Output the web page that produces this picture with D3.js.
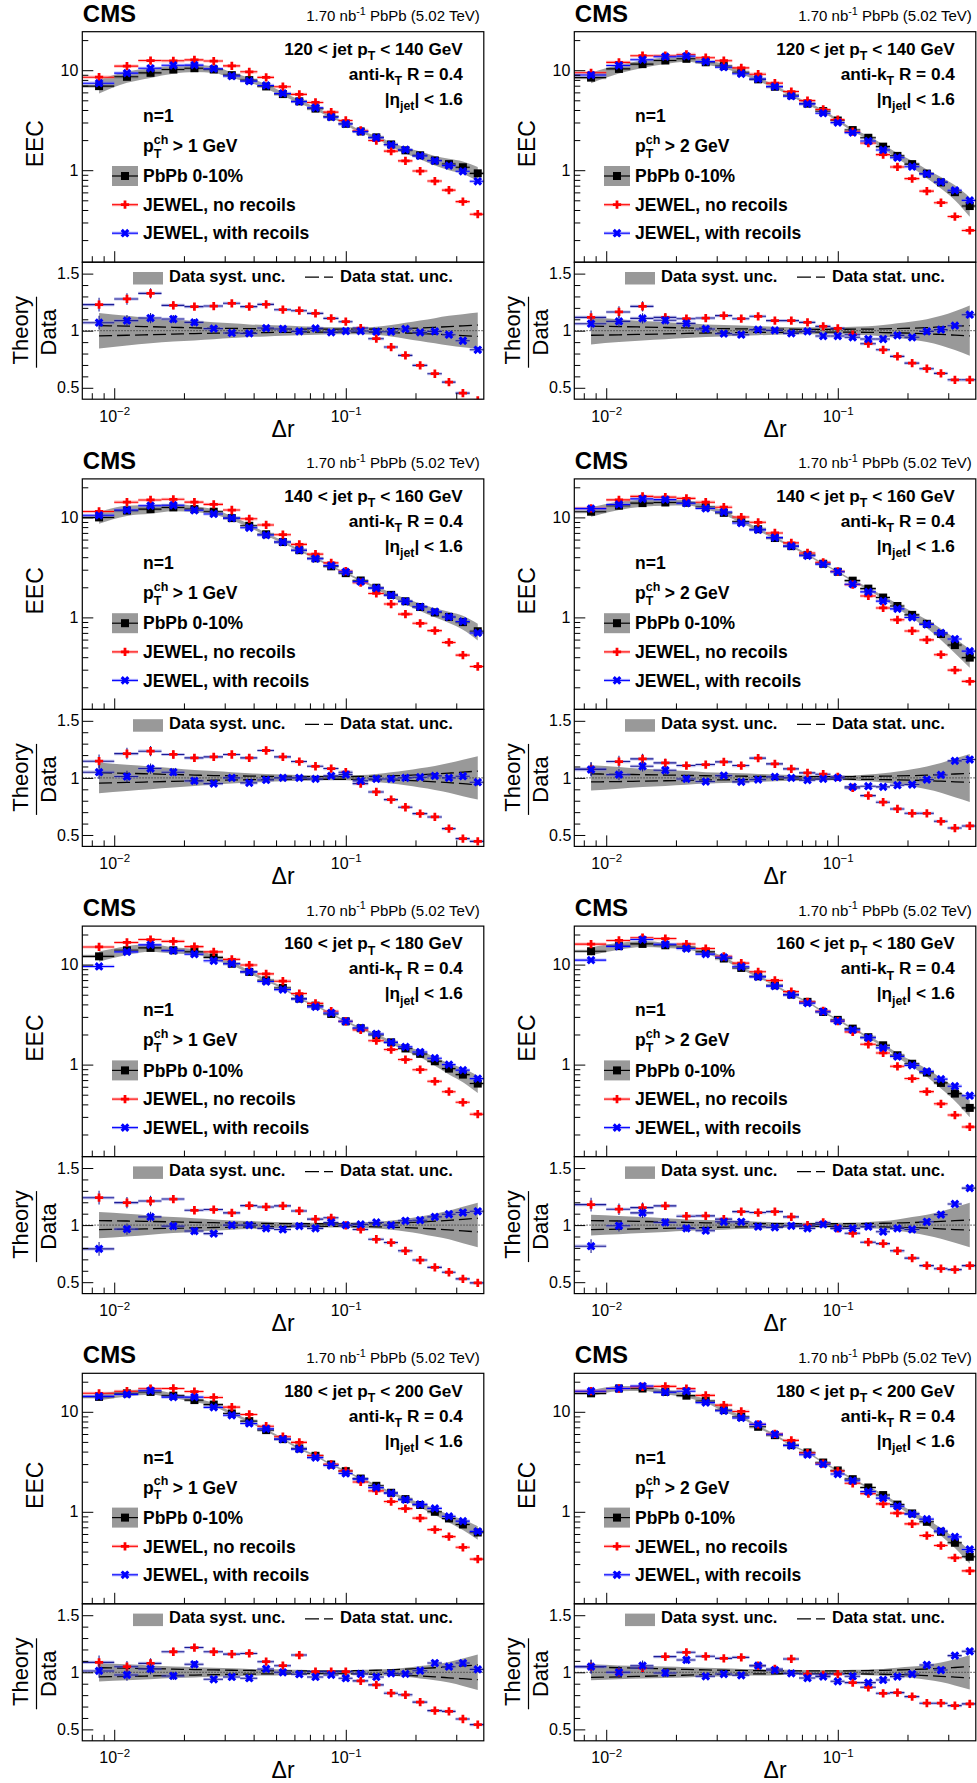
<!DOCTYPE html>
<html><head><meta charset="utf-8">
<script src="https://cdn.jsdelivr.net/npm/d3@7"></script>
<style>body{margin:0;background:#fff}</style>
</head><body><svg id="c"></svg>
<script>
// ---------------- DATA ----------------
const binEdges = [0.0072, 0.01, 0.0127, 0.016, 0.0201, 0.0243, 0.0295, 0.035, 0.0415, 0.049, 0.058, 0.068, 0.08, 0.093, 0.107, 0.125, 0.146, 0.168, 0.194, 0.225, 0.26, 0.298, 0.343, 0.4];
const deltaR = [0.0086, 0.01135, 0.01435, 0.018, 0.0222, 0.0269, 0.0322, 0.0383, 0.0453, 0.0535, 0.063, 0.074, 0.0865, 0.1, 0.116, 0.1355, 0.157, 0.181, 0.2095, 0.2425, 0.279, 0.3205, 0.3715];

const jetPtBins = ["120 < jet p", "140 < jet p", "160 < jet p", "180 < jet p"];
const jetPtBinsHigh = [" < 140 GeV", " < 160 GeV", " < 180 GeV", " < 200 GeV"];
const trackPtCuts = ["1", "2"];

const xAxisRange = [0.00728, 0.3945];
const yUpperRange = [0.1202, 24.27];
const ratioRange = [0.4, 1.6];
const xMajorTicks = [0.01, 0.1];
const xMajorLabels = ["-2", "-1"];
const xMinorTicks = [0.008, 0.009, 0.02, 0.03, 0.04, 0.05, 0.06, 0.07, 0.08, 0.09, 0.2, 0.3];
const yUpperMajor = [1, 10];
const yUpperMinor = [0.2, 0.3, 0.4, 0.5, 0.6, 0.7, 0.8, 0.9, 2, 3, 4, 5, 6, 7, 8, 9, 20];
const ratioMajor = [0.5, 1, 1.5];
const ratioMinor = [0.6, 0.7, 0.8, 0.9, 1.1, 1.2, 1.3, 1.4];

const ratioErr = [0.06, 0.05, 0.045, 0.035, 0.03, 0.02, 0.015, 0.012, 0.01, 0.01, 0.01, 0.01, 0.01, 0.01, 0.01, 0.01, 0.01, 0.01, 0.01, 0.012, 0.014, 0.016, 0.02];

// 120-140 GeV, pT^ch > 1
const eec_120_1 = [6.93, 8.59, 9.41, 10.16, 10.47, 10.16, 8.92, 7.96, 6.88, 5.77, 4.88, 4.13, 3.44, 2.91, 2.44, 2.13, 1.81, 1.58, 1.41, 1.25, 1.15, 1.07, 0.93];
const rNo_120_1 = [1.228, 1.278, 1.327, 1.222, 1.211, 1.216, 1.240, 1.211, 1.231, 1.184, 1.175, 1.152, 1.108, 1.079, 1.023, 0.930, 0.857, 0.784, 0.696, 0.623, 0.550, 0.453, 0.39];
const rWith_120_1 = [1.070, 1.088, 1.111, 1.102, 1.073, 1.018, 0.980, 0.977, 1.023, 1.015, 0.994, 1.020, 0.985, 0.997, 0.997, 0.991, 0.991, 1.015, 0.985, 0.994, 0.965, 0.912, 0.833];
const syst_120_1 = [0.155, 0.13, 0.11, 0.095, 0.085, 0.075, 0.065, 0.055, 0.05, 0.045, 0.04, 0.035, 0.03, 0.03, 0.03, 0.035, 0.05, 0.07, 0.09, 0.11, 0.13, 0.145, 0.16];
const stat_120_1 = [0.045, 0.04, 0.035, 0.03, 0.025, 0.022, 0.02, 0.018, 0.016, 0.015, 0.014, 0.013, 0.013, 0.013, 0.014, 0.015, 0.017, 0.02, 0.024, 0.03, 0.036, 0.043, 0.05];

// 120-140 GeV, pT^ch > 2
const eec_120_2 = [8.43, 10.3, 11.5, 12.5, 13.0, 12.0, 11.0, 9.55, 8.1, 6.83, 5.62, 4.63, 3.90, 3.14, 2.52, 2.11, 1.72, 1.39, 1.15, 0.925, 0.755, 0.603, 0.438];
const rNo_120_2 = [1.117, 1.164, 1.213, 1.117, 1.105, 1.111, 1.132, 1.105, 1.126, 1.088, 1.088, 1.073, 1.038, 1.020, 0.965, 0.886, 0.833, 0.775, 0.716, 0.667, 0.626, 0.570, 0.570];
const rWith_120_2 = [1.061, 1.082, 1.108, 1.091, 1.064, 1.015, 0.974, 0.965, 1.009, 1.003, 0.977, 0.994, 0.953, 0.953, 0.942, 0.927, 0.927, 0.959, 0.942, 0.994, 1.009, 1.044, 1.140];
const syst_120_2 = [0.12, 0.1, 0.085, 0.075, 0.065, 0.055, 0.05, 0.045, 0.04, 0.035, 0.03, 0.03, 0.03, 0.03, 0.035, 0.04, 0.05, 0.065, 0.08, 0.1, 0.13, 0.17, 0.22];
const stat_120_2 = [0.04, 0.036, 0.032, 0.028, 0.024, 0.02, 0.018, 0.016, 0.015, 0.014, 0.013, 0.012, 0.012, 0.012, 0.013, 0.014, 0.016, 0.019, 0.022, 0.027, 0.033, 0.039, 0.045];

// 140-160 GeV, pT^ch > 1
const eec_140_1 = [10.0, 11.7, 12.1, 12.6, 12.1, 11.4, 9.84, 8.24, 6.78, 5.67, 4.70, 3.90, 3.24, 2.77, 2.34, 1.98, 1.68, 1.45, 1.27, 1.12, 1.01, 0.897, 0.727];
const rNo_140_1 = [1.146, 1.213, 1.234, 1.205, 1.175, 1.184, 1.205, 1.175, 1.240, 1.184, 1.143, 1.102, 1.082, 1.050, 0.950, 0.877, 0.810, 0.743, 0.687, 0.658, 0.556, 0.468, 0.444];
const rWith_140_1 = [1.050, 1.012, 1.082, 1.050, 0.974, 0.950, 1.0, 0.956, 0.982, 1.0, 1.0, 0.991, 1.018, 1.029, 0.974, 0.991, 0.991, 1.0, 1.006, 1.018, 1.0, 1.015, 0.962];
const syst_140_1 = [0.135, 0.115, 0.1, 0.085, 0.07, 0.06, 0.05, 0.04, 0.035, 0.03, 0.025, 0.022, 0.02, 0.02, 0.025, 0.035, 0.05, 0.065, 0.085, 0.105, 0.13, 0.16, 0.19];
const stat_140_1 = [0.045, 0.04, 0.035, 0.03, 0.025, 0.02, 0.018, 0.016, 0.014, 0.013, 0.012, 0.012, 0.012, 0.012, 0.013, 0.015, 0.018, 0.022, 0.027, 0.034, 0.042, 0.05, 0.06];

// 140-160 GeV, pT^ch > 2
const eec_140_2 = [11.4, 13.1, 13.9, 14.1, 14.0, 12.7, 11.1, 9.1, 7.62, 6.22, 5.16, 4.22, 3.44, 2.86, 2.33, 1.94, 1.58, 1.30, 1.06, 0.863, 0.683, 0.529, 0.396];
const rNo_140_2 = [1.079, 1.143, 1.167, 1.132, 1.108, 1.117, 1.140, 1.108, 1.173, 1.123, 1.079, 1.044, 1.032, 1.009, 0.912, 0.845, 0.787, 0.728, 0.690, 0.690, 0.620, 0.561, 0.579];
const rWith_140_2 = [1.073, 1.029, 1.102, 1.067, 0.991, 0.968, 1.020, 0.965, 0.985, 1.009, 1.0, 0.980, 0.991, 1.0, 0.921, 0.927, 0.921, 0.936, 0.942, 0.985, 1.026, 1.149, 1.161];
const syst_140_2 = [0.11, 0.095, 0.08, 0.07, 0.06, 0.05, 0.045, 0.04, 0.035, 0.03, 0.025, 0.022, 0.02, 0.02, 0.022, 0.03, 0.04, 0.055, 0.075, 0.1, 0.13, 0.17, 0.21];
const stat_140_2 = [0.035, 0.032, 0.028, 0.025, 0.022, 0.019, 0.017, 0.015, 0.013, 0.012, 0.011, 0.011, 0.011, 0.011, 0.012, 0.013, 0.015, 0.017, 0.02, 0.024, 0.029, 0.034, 0.04];

// 160-180 GeV, pT^ch > 1
const eec_160_1 = [12.1, 13.9, 14.7, 13.9, 13.4, 11.8, 10.2, 8.45, 6.97, 5.84, 4.57, 3.89, 3.21, 2.71, 2.31, 1.98, 1.67, 1.45, 1.28, 1.08, 0.912, 0.794, 0.646];
const rNo_160_1 = [1.240, 1.197, 1.211, 1.228, 1.130, 1.136, 1.107, 1.171, 1.159, 1.168, 1.124, 1.052, 1.064, 0.997, 0.962, 0.876, 0.847, 0.775, 0.694, 0.630, 0.587, 0.529, 0.494];
const rWith_160_1 = [0.792, 0.965, 1.072, 0.991, 0.948, 0.925, 1.0, 1.0, 0.971, 0.962, 0.991, 0.971, 1.023, 1.0, 1.006, 1.023, 1.0, 1.038, 1.043, 1.072, 1.095, 1.110, 1.121];
const syst_160_1 = [0.115, 0.1, 0.085, 0.07, 0.06, 0.05, 0.04, 0.035, 0.03, 0.025, 0.022, 0.02, 0.02, 0.02, 0.025, 0.03, 0.04, 0.055, 0.075, 0.1, 0.125, 0.16, 0.195];
const stat_160_1 = [0.04, 0.036, 0.032, 0.028, 0.024, 0.021, 0.018, 0.016, 0.014, 0.013, 0.012, 0.012, 0.012, 0.012, 0.013, 0.015, 0.018, 0.022, 0.027, 0.034, 0.042, 0.05, 0.06];

// 160-180 GeV, pT^ch > 2
const eec_160_2 = [13.6, 15.3, 16.1, 15.6, 14.9, 13.4, 11.5, 9.26, 7.64, 6.21, 5.01, 4.24, 3.36, 2.80, 2.29, 1.88, 1.56, 1.24, 1.02, 0.832, 0.656, 0.513, 0.369];
const rNo_160_2 = [1.179, 1.139, 1.153, 1.168, 1.078, 1.081, 1.052, 1.118, 1.110, 1.118, 1.072, 1.0, 1.023, 0.971, 0.928, 0.850, 0.838, 0.775, 0.711, 0.645, 0.618, 0.610, 0.645];
const rWith_160_2 = [0.815, 0.994, 1.107, 1.023, 0.971, 0.951, 1.029, 1.029, 0.986, 0.980, 0.994, 0.971, 1.006, 0.971, 0.971, 0.986, 0.942, 0.971, 0.962, 1.029, 1.092, 1.185, 1.324];
const syst_160_2 = [0.09, 0.08, 0.07, 0.06, 0.05, 0.045, 0.04, 0.035, 0.03, 0.025, 0.022, 0.02, 0.02, 0.02, 0.022, 0.028, 0.035, 0.05, 0.07, 0.09, 0.12, 0.155, 0.195];
const stat_160_2 = [0.04, 0.036, 0.032, 0.028, 0.024, 0.02, 0.018, 0.016, 0.014, 0.013, 0.012, 0.012, 0.012, 0.012, 0.013, 0.014, 0.016, 0.019, 0.022, 0.027, 0.033, 0.039, 0.045];

// 180-200 GeV, pT^ch > 1
const eec_180_1 = [14.1, 15.3, 15.8, 14.5, 13.1, 11.8, 9.62, 8.07, 6.56, 5.33, 4.30, 3.63, 2.97, 2.55, 2.15, 1.82, 1.55, 1.34, 1.17, 1.0, 0.858, 0.747, 0.621];
const rNo_180_1 = [1.087, 1.049, 1.078, 1.180, 1.217, 1.180, 1.159, 1.165, 1.093, 1.058, 1.151, 1.006, 1.006, 1.006, 0.925, 0.890, 0.817, 0.803, 0.739, 0.664, 0.658, 0.591, 0.542];
const rWith_180_1 = [1.012, 0.977, 1.029, 0.968, 1.070, 0.939, 0.959, 0.948, 1.029, 1.0, 0.983, 0.959, 0.977, 0.948, 0.986, 0.959, 0.991, 0.986, 1.014, 1.081, 1.049, 1.081, 1.026];
const syst_180_1 = [0.08, 0.07, 0.06, 0.05, 0.045, 0.04, 0.035, 0.03, 0.028, 0.025, 0.022, 0.02, 0.02, 0.02, 0.022, 0.025, 0.03, 0.04, 0.055, 0.07, 0.09, 0.12, 0.155];
const stat_180_1 = [0.04, 0.036, 0.032, 0.028, 0.024, 0.021, 0.018, 0.016, 0.014, 0.013, 0.012, 0.012, 0.012, 0.013, 0.015, 0.018, 0.022, 0.027, 0.033, 0.04, 0.048, 0.056, 0.065];

// 180-200 GeV, pT^ch > 2
const eec_180_2 = [15.3, 17.1, 17.1, 15.8, 14.5, 12.8, 10.4, 8.91, 7.08, 5.84, 4.64, 3.92, 3.11, 2.59, 2.12, 1.75, 1.47, 1.18, 0.963, 0.794, 0.631, 0.49, 0.355];
const rNo_180_2 = [1.050, 1.0, 1.038, 1.137, 1.175, 1.140, 1.122, 1.131, 1.058, 1.029, 1.117, 0.985, 0.977, 0.985, 0.910, 0.869, 0.816, 0.822, 0.787, 0.729, 0.729, 0.708, 0.723];
const rWith_180_2 = [1.050, 1.0, 1.058, 0.994, 1.108, 0.965, 0.985, 0.974, 1.058, 1.020, 0.991, 0.950, 0.962, 0.921, 0.965, 0.910, 0.933, 0.962, 0.985, 1.064, 1.020, 1.146, 1.184];
const syst_180_2 = [0.07, 0.06, 0.055, 0.05, 0.045, 0.04, 0.035, 0.03, 0.028, 0.025, 0.022, 0.02, 0.02, 0.02, 0.022, 0.025, 0.03, 0.04, 0.05, 0.065, 0.085, 0.115, 0.15];
const stat_180_2 = [0.045, 0.04, 0.035, 0.03, 0.025, 0.021, 0.018, 0.016, 0.014, 0.013, 0.012, 0.012, 0.012, 0.012, 0.013, 0.015, 0.017, 0.02, 0.024, 0.029, 0.035, 0.042, 0.05];

// ---------------- LAYOUT ----------------
const FONT = "'Liberation Sans', Arial, Helvetica, sans-serif";
const FRAME_LEFT0 = 82.3, COL_SHIFT = 492, FRAME_TOP0 = 31.7, ROW_SHIFT = 447.2;
const FRAME_W = 401.5, UP_H = 230.5, LOW_H = 137;
const RED = "#ff0000", BLUE = "#0000ff", GRAY = "#999999", NAVY = "#1c1c96";
const INFO_SIZE = 17.2, LEG_SIZE = 17.5;

const panels = [
  {row:0, col:0, jet:0, trk:0, eec:eec_120_1, rNo:rNo_120_1, rWith:rWith_120_1, syst:syst_120_1, stat:stat_120_1},
  {row:0, col:1, jet:0, trk:1, eec:eec_120_2, rNo:rNo_120_2, rWith:rWith_120_2, syst:syst_120_2, stat:stat_120_2},
  {row:1, col:0, jet:1, trk:0, eec:eec_140_1, rNo:rNo_140_1, rWith:rWith_140_1, syst:syst_140_1, stat:stat_140_1},
  {row:1, col:1, jet:1, trk:1, eec:eec_140_2, rNo:rNo_140_2, rWith:rWith_140_2, syst:syst_140_2, stat:stat_140_2},
  {row:2, col:0, jet:2, trk:0, eec:eec_160_1, rNo:rNo_160_1, rWith:rWith_160_1, syst:syst_160_1, stat:stat_160_1},
  {row:2, col:1, jet:2, trk:1, eec:eec_160_2, rNo:rNo_160_2, rWith:rWith_160_2, syst:syst_160_2, stat:stat_160_2},
  {row:3, col:0, jet:3, trk:0, eec:eec_180_1, rNo:rNo_180_1, rWith:rWith_180_1, syst:syst_180_1, stat:stat_180_1},
  {row:3, col:1, jet:3, trk:1, eec:eec_180_2, rNo:rNo_180_2, rWith:rWith_180_2, syst:syst_180_2, stat:stat_180_2}
];

const svg = d3.select("#c").attr("width", 977).attr("height", 1783)
  .attr("font-family", FONT);
svg.append("rect").attr("width", 977).attr("height", 1783).attr("fill", "#fff");
const defs = svg.append("defs");

const redSym = d3.symbol(d3.symbolCross, 38);
const blueSym = d3.symbol(d3.symbolCross, 48);

function rich(g, x, y, parts, size, weight, anchor) {
  const t = g.append("text").attr("x", x).attr("y", y).attr("font-size", size)
    .attr("font-weight", weight).attr("text-anchor", anchor || "start").attr("fill", "#000")
    .attr("xml:space", "preserve");
  let shift = 0;
  parts.forEach(p => {
    const target = p.sub ? size * 0.3 : (p.sup ? -size * 0.42 : 0);
    const ts = t.append("tspan").text(p.t).attr("dy", target - shift);
    if (p.sub || p.sup) ts.attr("font-size", size * 0.72);
    shift = target;
  });
  return t;
}

function drawMarker(g, kind, cx, cy) {
  if (kind === "data") {
    g.append("rect").attr("x", cx - 4).attr("y", cy - 4).attr("width", 8).attr("height", 8).attr("fill", "#000");
  } else if (kind === "red") {
    g.append("path").attr("d", redSym()).attr("transform", `translate(${cx},${cy})`).attr("fill", RED);
  } else {
    g.append("path").attr("d", blueSym()).attr("transform", `translate(${cx},${cy}) rotate(45)`).attr("fill", BLUE);
  }
}

function hbar(g, x1, x2, y, core, halo) {
  g.append("line").attr("x1", x1).attr("x2", x2).attr("y1", y).attr("y2", y)
    .attr("stroke", halo).attr("stroke-width", 3.2).attr("stroke-opacity", 0.45);
  g.append("line").attr("x1", x1).attr("x2", x2).attr("y1", y).attr("y2", y)
    .attr("stroke", core).attr("stroke-width", 1.1);
}

panels.forEach((p, idx) => {
  const L = FRAME_LEFT0 + p.col * COL_SHIFT;
  const T = FRAME_TOP0 + p.row * ROW_SHIFT;
  const R = L + FRAME_W;
  const g = svg.append("g");

  const x = d3.scaleLog().domain(xAxisRange).range([L, R]);
  const yU = d3.scaleLog().domain(yUpperRange).range([T + UP_H, T]);
  const yR = d3.scaleLinear().domain(ratioRange).range([T + UP_H + LOW_H, T + UP_H]);

  defs.append("clipPath").attr("id", "cu" + idx).append("rect")
    .attr("x", L).attr("y", T).attr("width", FRAME_W).attr("height", UP_H);
  defs.append("clipPath").attr("id", "cr" + idx).append("rect")
    .attr("x", L).attr("y", T + UP_H).attr("width", FRAME_W).attr("height", LOW_H);

  // ---------- upper pad ----------
  const up = g.append("g").attr("clip-path", `url(#cu${idx})`);
  const band = d3.area().x((d, i) => x(deltaR[i]))
    .y0((d, i) => yU(d * (1 - p.syst[i]))).y1((d, i) => yU(d * (1 + p.syst[i])))
    .curve(d3.curveMonotoneX);
  up.append("path").attr("d", band(p.eec)).attr("fill", "#939393").attr("fill-opacity", 0.9);

  const series = [
    {kind: "data", vals: p.eec, core: "#000", halo: "#666"},
    {kind: "red", vals: p.eec.map((d, i) => d * p.rNo[i]), core: RED, halo: "#ff7070"},
    {kind: "blue", vals: p.eec.map((d, i) => d * p.rWith[i]), core: BLUE, halo: "#7070ff"}
  ];
  series.forEach(s => {
    s.vals.forEach((v, i) => hbar(up, x(binEdges[i]), x(binEdges[i + 1]), yU(v), s.core, s.halo));
    s.vals.forEach((v, i) => drawMarker(up, s.kind, x(deltaR[i]), yU(v)));
  });

  // ---------- ratio pad ----------
  const rp = g.append("g").attr("clip-path", `url(#cr${idx})`);
  const sband = d3.area().x((d, i) => x(deltaR[i]))
    .y0((d, i) => yR(1 - d)).y1((d, i) => yR(1 + d)).curve(d3.curveMonotoneX);
  rp.append("path").attr("d", sband(p.syst)).attr("fill", GRAY);
  const statLine = sign => d3.line().x((d, i) => x(deltaR[i])).y(d => yR(1 + sign * d)).curve(d3.curveMonotoneX);
  [1, -1].forEach(sg => rp.append("path").attr("d", statLine(sg)(p.stat)).attr("fill", "none")
    .attr("stroke", "#000").attr("stroke-width", 1.3).attr("stroke-dasharray", "13,5"));
  rp.append("line").attr("x1", L).attr("x2", R).attr("y1", yR(1)).attr("y2", yR(1))
    .attr("stroke", "#444").attr("stroke-width", 1).attr("stroke-dasharray", "1.5,1.5");

  [{kind: "red", vals: p.rNo}, {kind: "blue", vals: p.rWith}].forEach(s => {
    s.vals.forEach((v, i) => {
      hbar(rp, x(binEdges[i]), x(binEdges[i + 1]), yR(v), NAVY, "#7a7ad8");
      rp.append("line").attr("x1", x(deltaR[i])).attr("x2", x(deltaR[i]))
        .attr("y1", yR(v - ratioErr[i])).attr("y2", yR(v + ratioErr[i]))
        .attr("stroke", NAVY).attr("stroke-width", 1.1);
    });
    s.vals.forEach((v, i) => drawMarker(rp, s.kind, x(deltaR[i]), yR(v)));
  });

  // ---------- frames ----------
  g.append("rect").attr("x", L).attr("y", T).attr("width", FRAME_W).attr("height", UP_H)
    .attr("fill", "none").attr("stroke", "#000").attr("stroke-width", 1.2);
  g.append("rect").attr("x", L).attr("y", T + UP_H).attr("width", FRAME_W).attr("height", LOW_H)
    .attr("fill", "none").attr("stroke", "#000").attr("stroke-width", 1.2);

  // ---------- axes ----------
  function styleAxis(sel) { sel.select(".domain").remove(); sel.selectAll("line").attr("stroke", "#000").attr("stroke-width", 1); sel.selectAll("text").attr("font-family", FONT).attr("font-size", 16).attr("fill", "#000"); }
  g.append("g").attr("transform", `translate(${L},0)`)
    .call(d3.axisLeft(yU).tickValues(yUpperMajor).tickSize(-11).tickPadding(4).tickFormat(d3.format("d"))).call(styleAxis);
  g.append("g").attr("transform", `translate(${L},0)`)
    .call(d3.axisLeft(yU).tickValues(yUpperMinor).tickSize(-6).tickFormat("")).call(styleAxis);
  g.append("g").attr("transform", `translate(0,${T + UP_H})`)
    .call(d3.axisBottom(x).tickValues(xMajorTicks).tickSize(-11).tickFormat("")).call(styleAxis);
  g.append("g").attr("transform", `translate(0,${T + UP_H})`)
    .call(d3.axisBottom(x).tickValues(xMinorTicks).tickSize(-6).tickFormat("")).call(styleAxis);
  g.append("g").attr("transform", `translate(${L},0)`)
    .call(d3.axisLeft(yR).tickValues(ratioMajor).tickSize(-11).tickPadding(3).tickFormat(d => d3.format("")(d))).call(styleAxis);
  g.append("g").attr("transform", `translate(${L},0)`)
    .call(d3.axisLeft(yR).tickValues(ratioMinor).tickSize(-6).tickFormat("")).call(styleAxis);
  const xa = g.append("g").attr("transform", `translate(0,${T + UP_H + LOW_H})`)
    .call(d3.axisBottom(x).tickValues(xMajorTicks).tickSize(-11).tickFormat("")).call(styleAxis);
  xa.selectAll(".tick text").each(function(d, i) {
    const t = d3.select(this).attr("y", 22.5).attr("dy", null).attr("text-anchor", "middle");
    t.append("tspan").text("10");
    t.append("tspan").text("\u2212" + xMajorLabels[i].replace("-", "")).attr("font-size", 11.5).attr("dy", -6.5);
  });
  g.append("g").attr("transform", `translate(0,${T + UP_H + LOW_H})`)
    .call(d3.axisBottom(x).tickValues(xMinorTicks).tickSize(-6).tickFormat("")).call(styleAxis);

  // ---------- titles ----------
  g.append("text").attr("x", L + 0.5).attr("y", T - 10).attr("font-size", 24).attr("font-weight", "bold").text("CMS");
  rich(g, R - 4, T - 10.5, [{t: "1.70 nb"}, {t: "-1", sup: true}, {t: " PbPb (5.02 TeV)"}], 15, "normal", "end");

  rich(g, R - 21, T + 23.3, [{t: jetPtBins[p.jet]}, {t: "T", sub: true}, {t: jetPtBinsHigh[p.jet]}], INFO_SIZE, "bold", "end");
  rich(g, R - 21, T + 48.3, [{t: "anti-k"}, {t: "T", sub: true}, {t: " R = 0.4"}], INFO_SIZE, "bold", "end");
  rich(g, R - 21, T + 73.3, [{t: "|\u03b7"}, {t: "jet", sub: true}, {t: "| < 1.6"}], INFO_SIZE, "bold", "end");

  const tx = L + 60.7;
  g.append("text").attr("x", tx).attr("y", T + 90.3).attr("font-size", LEG_SIZE).attr("font-weight", "bold").text("n=1");
  const pt = g.append("text").attr("x", tx).attr("y", T + 120.3).attr("font-size", LEG_SIZE).attr("font-weight", "bold").text("p");
  const pw = pt.node().getComputedTextLength();
  const ch = g.append("text").attr("x", tx + pw).attr("y", T + 112).attr("font-size", 12.5).attr("font-weight", "bold").text("ch");
  g.append("text").attr("x", tx + pw).attr("y", T + 126).attr("font-size", 12.5).attr("font-weight", "bold").text("T");
  const cw = ch.node().getComputedTextLength();
  g.append("text").attr("x", tx + pw + cw + 4.5).attr("y", T + 120.3).attr("font-size", LEG_SIZE).attr("font-weight", "bold")
    .text("> " + trackPtCuts[p.trk] + " GeV");

  // legend upper
  const lx0 = L + 29.7, lx1 = L + 55.7, lxc = L + 42.7;
  g.append("rect").attr("x", lx0).attr("y", T + 134.3).attr("width", 26).attr("height", 20).attr("fill", GRAY);
  g.append("line").attr("x1", lx0).attr("x2", lx1).attr("y1", T + 144.3).attr("y2", T + 144.3).attr("stroke", "#000").attr("stroke-width", 1.2);
  drawMarker(g, "data", lxc, T + 144.3);
  g.append("text").attr("x", tx).attr("y", T + 150.5).attr("font-size", LEG_SIZE).attr("font-weight", "bold").text("PbPb 0-10%");
  hbar(g, lx0, lx1, T + 173, RED, "#ff7070");
  drawMarker(g, "red", lxc, T + 173);
  g.append("text").attr("x", tx).attr("y", T + 179.3).attr("font-size", LEG_SIZE).attr("font-weight", "bold").text("JEWEL, no recoils");
  hbar(g, lx0, lx1, T + 201.5, BLUE, "#7070ff");
  drawMarker(g, "blue", lxc, T + 201.5);
  g.append("text").attr("x", tx).attr("y", T + 207.7).attr("font-size", LEG_SIZE).attr("font-weight", "bold").text("JEWEL, with recoils");

  // legend ratio
  g.append("rect").attr("x", L + 50.7).attr("y", T + 240.3).attr("width", 30).attr("height", 12.5).attr("fill", GRAY);
  g.append("text").attr("x", L + 86.7).attr("y", T + 249.8).attr("font-size", 16.5).attr("font-weight", "bold").text("Data syst. unc.");
  g.append("line").attr("x1", L + 222.7).attr("x2", L + 250.7).attr("y1", T + 245.5).attr("y2", T + 245.5)
    .attr("stroke", "#000").attr("stroke-width", 1.3).attr("stroke-dasharray", "14,5");
  g.append("text").attr("x", L + 257.7).attr("y", T + 249.8).attr("font-size", 16.5).attr("font-weight", "bold").text("Data stat. unc.");

  // axis titles
  g.append("text").attr("transform", `translate(${L - 39.5},${T + 112}) rotate(-90)`).attr("text-anchor", "middle")
    .attr("font-size", 23).text("EEC");
  g.append("text").attr("transform", `translate(${L - 54.8},${T + 298.5}) rotate(-90)`).attr("text-anchor", "middle")
    .attr("font-size", 22).text("Theory");
  g.append("line").attr("x1", L - 45.8).attr("x2", L - 45.8).attr("y1", T + 265).attr("y2", T + 336)
    .attr("stroke", "#000").attr("stroke-width", 1.2);
  g.append("text").attr("transform", `translate(${L - 26.3},${T + 300.5}) rotate(-90)`).attr("text-anchor", "middle")
    .attr("font-size", 22).text("Data");
  g.append("text").attr("x", (L + R) / 2).attr("y", T + 405).attr("text-anchor", "middle")
    .attr("font-size", 23).text("\u0394r");
});
</script></body></html>
